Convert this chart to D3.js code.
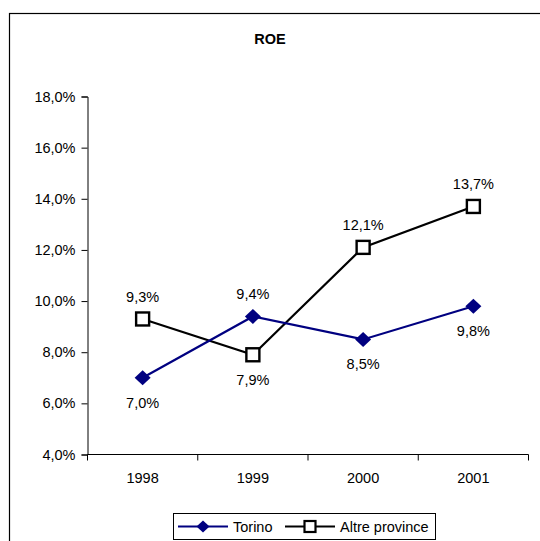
<!DOCTYPE html>
<html><head><meta charset="utf-8">
<script src="https://cdn.jsdelivr.net/npm/d3@7"></script>
<style>body{margin:0;background:#fff}svg{display:block;font-family:"Liberation Sans",Arial,sans-serif}</style>
</head><body>
<script>
const years = ["1998","1999","2000","2001"];
const torino = [7.0, 9.4, 8.5, 9.8];
const altre = [9.3, 7.9, 12.1, 13.7];
const torinoLabelPos = ["below","above","below","below"];
const altreLabelPos = ["above","below","above","above"];
const yTicks = [4,6,8,10,12,14,16,18];
const title = "ROE";
const seriesNames = ["Torino","Altre province"];

const W = 540, H = 541;
const svg = d3.select("body").append("svg").attr("width", W).attr("height", H);
svg.append("rect").attr("x", 9.5).attr("y", 13.5).attr("width", 540).attr("height", 540)
  .attr("fill", "#fff").attr("stroke", "#000").attr("stroke-width", 1.2);

svg.append("text").attr("x", 270).attr("y", 44).attr("text-anchor", "middle")
  .attr("font-size", "14.5px").attr("font-weight", "bold").text(title);

const x = d3.scaleBand().domain(years).range([87.5, 528.5]);
const y = d3.scaleLinear().domain([4, 18]).range([454.5, 96.5]);
const fmt = v => d3.format(".1f")(v).replace(".", ",") + "%";

const yAxis = svg.append("g").attr("transform", "translate(87.5,0)")
  .call(d3.axisLeft(y).tickValues(yTicks).tickSize(6).tickPadding(6).tickFormat(fmt));
yAxis.selectAll("text").attr("font-size", "14.5px").attr("font-family", "Liberation Sans, Arial, sans-serif").attr("fill", "#000");
yAxis.selectAll("line,path").attr("stroke", "#000");

const xAxis = svg.append("g").attr("transform", "translate(0,454.5)")
  .call(d3.axisBottom(x).tickSize(0).tickPadding(0).tickFormat(""));
xAxis.select("path").attr("d", `M${x.range()[0]},0H${x.range()[1]}`).attr("stroke", "#000");
const edges = years.map(d => x(d)).concat([x.range()[1]]);
xAxis.selectAll(".edge").data(edges).enter().append("line").attr("class", "edge")
  .attr("x1", d => d).attr("x2", d => d).attr("y1", 0).attr("y2", 6).attr("stroke", "#000");
svg.selectAll(".xlab").data(years).enter().append("text").attr("class", "xlab")
  .attr("x", d => x(d) + x.bandwidth() / 2).attr("y", 483).attr("text-anchor", "middle")
  .attr("font-size", "14.5px").text(d => d);

const cx = d => x(d) + x.bandwidth() / 2;
const line = d3.line().x((d, i) => cx(years[i])).y(d => y(d));

const diamond = (r, h) => `M0,${-h}L${r},0L0,${h}L${-r},0Z`;

// Altre province
svg.append("path").attr("d", line(altre)).attr("fill", "none").attr("stroke", "#000").attr("stroke-width", 2.2);
// Torino
svg.append("path").attr("d", line(torino)).attr("fill", "none").attr("stroke", "#000080").attr("stroke-width", 2.2);

svg.selectAll(".sq").data(altre).enter().append("rect").attr("class", "sq")
  .attr("x", (d, i) => cx(years[i]) - 6.5).attr("y", d => y(d) - 6.5)
  .attr("width", 13).attr("height", 13).attr("fill", "#fff").attr("stroke", "#000").attr("stroke-width", 2.4);
svg.selectAll(".dm").data(torino).enter().append("path").attr("class", "dm")
  .attr("transform", (d, i) => `translate(${cx(years[i])},${y(d)})`)
  .attr("d", diamond(8, 7.5)).attr("fill", "#000080");

function labels(data, pos, cls) {
  svg.selectAll("." + cls).data(data).enter().append("text").attr("class", cls)
    .attr("x", (d, i) => cx(years[i]))
    .attr("y", (d, i) => y(d) + (pos[i] === "above" ? -17 : 30))
    .attr("text-anchor", "middle").attr("font-size", "14.5px").text(d => fmt(d));
}
labels(altre, altreLabelPos, "la");
labels(torino, torinoLabelPos, "lt");

// legend
const lg = svg.append("g");
lg.append("rect").attr("x", 173.5).attr("y", 513.5).attr("width", 262).attr("height", 26)
  .attr("fill", "#fff").attr("stroke", "#000").attr("stroke-width", 1);
lg.append("line").attr("x1", 178).attr("x2", 228).attr("y1", 526.5).attr("y2", 526.5).attr("stroke", "#000080").attr("stroke-width", 2.2);
lg.append("path").attr("transform", "translate(203,526.5)").attr("d", diamond(6.5, 6)).attr("fill", "#000080");
lg.append("text").attr("x", 233).attr("y", 531.5).attr("font-size", "14.5px").text(seriesNames[0]);
lg.append("line").attr("x1", 285).attr("x2", 335).attr("y1", 526.5).attr("y2", 526.5).attr("stroke", "#000").attr("stroke-width", 2.2);
lg.append("rect").attr("x", 304.5).attr("y", 521).attr("width", 11).attr("height", 11).attr("fill", "#fff").attr("stroke", "#000").attr("stroke-width", 2.2);
lg.append("text").attr("x", 340).attr("y", 531.5).attr("font-size", "14.5px").text(seriesNames[1]);
</script>
</body></html>
